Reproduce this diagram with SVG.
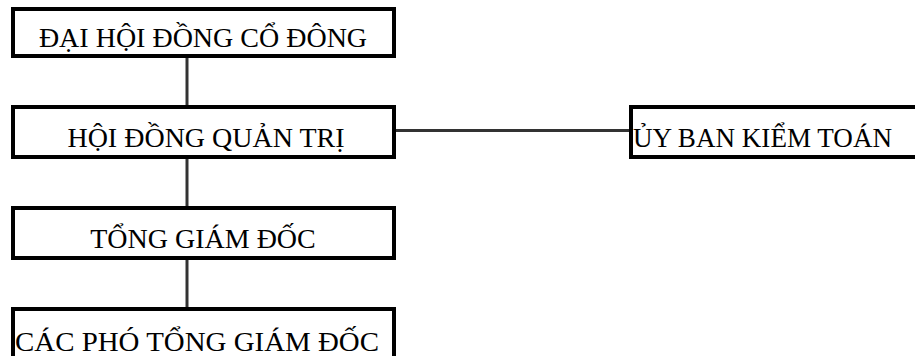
<svg xmlns="http://www.w3.org/2000/svg" width="915" height="356" viewBox="0 0 915 356">
<style>
.box{fill:#fff;stroke:#000;stroke-width:4}
.lbl{font-family:"Liberation Serif","Times New Roman",serif;font-size:28px;fill:#000}
.mid{text-anchor:middle}
.conn{stroke:#333;stroke-width:3;fill:none}
</style>
<rect width="915" height="356" fill="#fff"/>
<g id="connectors">
<line class="conn" x1="187" y1="57" x2="187" y2="106"/>
<line class="conn" x1="187" y1="158" x2="187" y2="207"/>
<line class="conn" x1="187" y1="256" x2="187" y2="308"/>
<line class="conn" x1="395" y1="130.5" x2="630" y2="130.5"/>
</g>
<g id="dhdcd">
<rect class="box" x="13" y="9" width="381" height="47"/>
<text class="lbl mid" x="203" y="47">ĐẠI HỘI ĐỒNG CỔ ĐÔNG</text>
</g>
<g id="hdqt">
<rect class="box" x="13" y="107" width="381" height="50"/>
<text class="lbl mid" x="206" y="146.5">HỘI ĐỒNG QUẢN TRỊ</text>
</g>
<g id="ubkt">
<rect class="box" x="631" y="107" width="290" height="50"/>
<text class="lbl" x="633" y="146.5" textLength="259" lengthAdjust="spacingAndGlyphs">ỦY BAN KIỂM TOÁN</text>
</g>
<g id="tgd">
<rect class="box" x="13" y="208" width="381" height="50"/>
<text class="lbl mid" x="203" y="248.3">TỔNG GIÁM ĐỐC</text>
</g>
<g id="cptgd">
<rect class="box" x="13" y="309" width="381" height="60"/>
<text class="lbl" x="15" y="351" textLength="364" lengthAdjust="spacingAndGlyphs">CÁC PHÓ TỔNG GIÁM ĐỐC</text>
</g>
</svg>
